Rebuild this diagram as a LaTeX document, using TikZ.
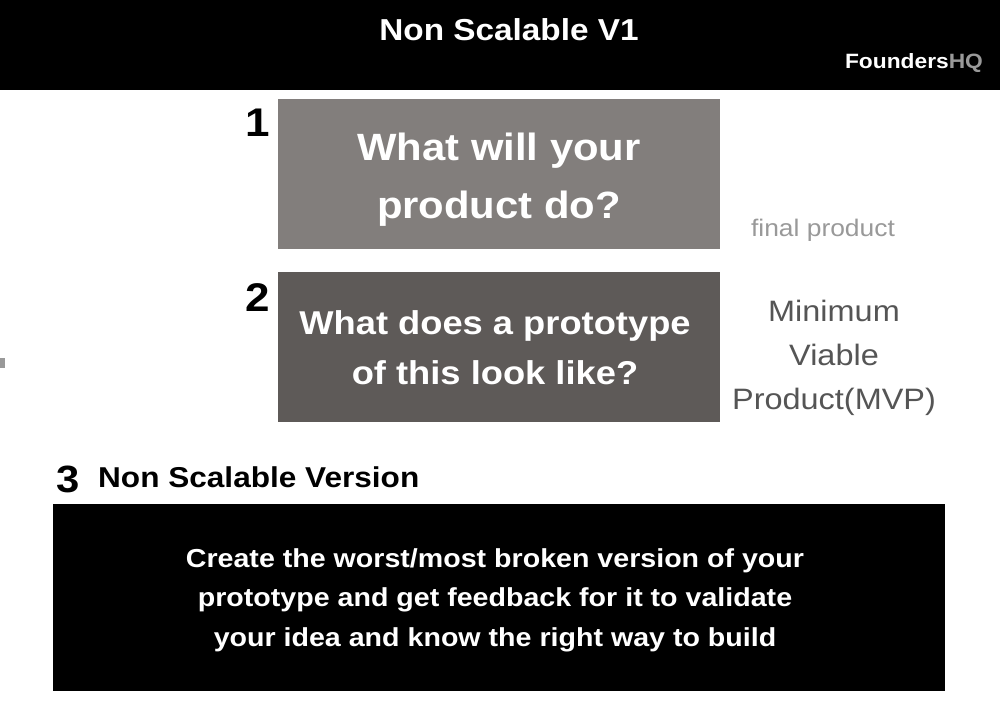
\documentclass[tikz,border=0pt]{standalone}
\usepackage{fontspec}
\setmainfont{Liberation Sans}[FakeStretch=1.1]
\usepackage{tikz}

\definecolor{boxlight}{HTML}{827E7C}
\definecolor{boxdark}{HTML}{5E5A58}
\definecolor{sidegray}{HTML}{555555}
\definecolor{softgray}{HTML}{999999}

\begin{document}
\begin{tikzpicture}[x=1pt,y=-1pt]
	\tikzstyle{every node}+=[inner sep=0pt]
	\tikzstyle{boxtext}=[white,font=\bfseries\fontsize{38}{58}\selectfont,align=center]
	\tikzstyle{numtext}=[black,font=\bfseries\fontsize{40}{40}\selectfont]
	\useasboundingbox (0,0) rectangle (1000,707);
	\fill [white] (0,0) rectangle (1000,707);
	\fill [black] (0,0) rectangle (1000,90);
	\node (title) at (509,30) [white,font=\bfseries\fontsize{30.3}{30}\selectfont] {Non Scalable V1};
	\node (logo) at (914,63) [white,font=\bfseries\fontsize{20.7}{21}\selectfont] {Founders\textcolor{softgray}{HQ}};
	\fill [softgray] (0,358) rectangle (5,368);
	\fill [boxlight] (278,99) rectangle (720,249);
	\node (product) at (499,180) [boxtext] {What will your\\product do?};
	\node (one) at (258,123) [numtext] {1};
	\node (final) at (823,230) [softgray,font=\fontsize{24}{24}\selectfont] {final product};
	\fill [boxdark] (278,272) rectangle (720,422);
	\node (proto) at (495,348) [boxtext,font=\bfseries\fontsize{33}{50}\selectfont] {What does a prototype\\of this look like?};
	\node (two) at (258,298) [numtext] {2};
	\node (mvp) at (834,358) [sidegray,align=center,font=\fontsize{29.5}{44}\selectfont] {Minimum\\Viable\\Product(MVP)};
	\node (three) at (68,479) [numtext,font=\bfseries\fontsize{38}{38}\selectfont] {3};
	\node (nsv) at (98,477) [anchor=west,black,font=\bfseries\fontsize{28.7}{28}\selectfont] {Non Scalable Version};
	\fill [black] (53,504) rectangle (945,691);
	\node (advice) at (495,600) [boxtext,font=\bfseries\fontsize{26}{39.5}\selectfont] {Create the worst/most broken version of your\\prototype and get feedback for it to validate\\your idea and know the right way to build};
\end{tikzpicture}
\end{document}
